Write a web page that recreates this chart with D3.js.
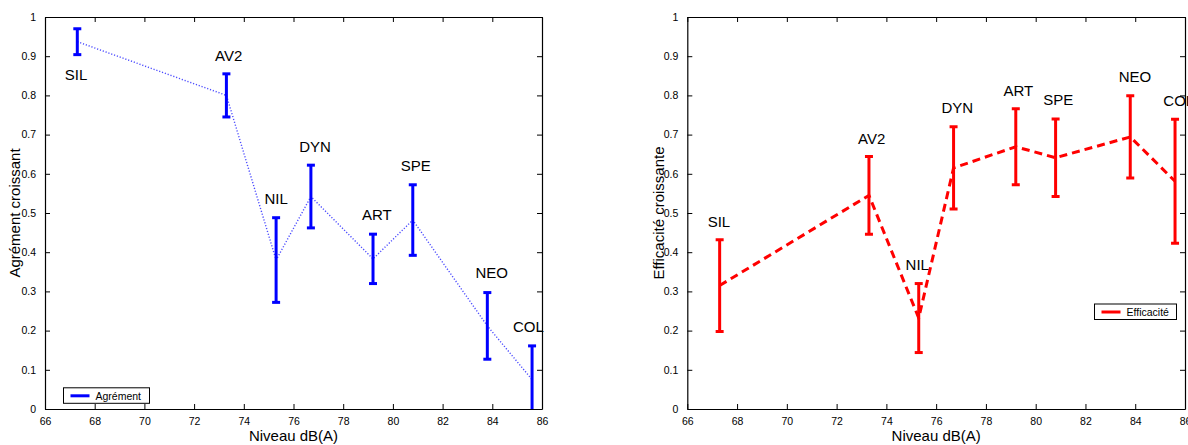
<!DOCTYPE html>
<html>
<head>
<meta charset="utf-8">
<script src="https://cdn.jsdelivr.net/npm/d3@7"></script>
<style>
  html, body { margin: 0; padding: 0; background: #fff; }
  svg { display: block; }
  text { font-family: "Liberation Sans", Arial, sans-serif; fill: #000; }
</style>
</head>
<body>
<svg id="chart" width="1188" height="445"></svg>
<script>
// ---- data ----
const categories = ["SIL", "AV2", "NIL", "DYN", "ART", "SPE", "NEO", "COL"];
const levels = [67.3, 73.3, 75.3, 76.7, 79.2, 80.8, 83.8, 85.6];

const agrementMean = [0.937, 0.800, 0.380, 0.542, 0.383, 0.482, 0.212, 0.075];
const agrementErr  = [0.033, 0.055, 0.108, 0.080, 0.063, 0.090, 0.085, 0.086];
const agrementLabelX = [67.25, 73.39, 75.30, 76.87, 79.35, 80.92, 83.98, 85.45];
const agrementLabelY = [0.853, 0.901, 0.536, 0.670, 0.496, 0.621, 0.347, 0.211];

const efficaciteMean = [0.315, 0.545, 0.232, 0.615, 0.669, 0.641, 0.694, 0.581];
const efficaciteErr  = [0.117, 0.099, 0.088, 0.105, 0.097, 0.099, 0.105, 0.158];
const efficaciteLabelX = [67.27, 73.41, 75.24, 76.85, 79.30, 80.91, 83.99, 85.75];
const efficaciteLabelY = [0.479, 0.691, 0.368, 0.770, 0.813, 0.789, 0.848, 0.787];

const xTicks = [66, 68, 70, 72, 74, 76, 78, 80, 82, 84, 86];
const yTicks = [0, 0.1, 0.2, 0.3, 0.4, 0.5, 0.6, 0.7, 0.8, 0.9, 1];
const yTickLabels = ["0", "0.1", "0.2", "0.3", "0.4", "0.5", "0.6", "0.7", "0.8", "0.9", "1"];

const xLabel = "Niveau dB(A)";

// ---- drawing ----
const svg = d3.select("#chart");

function panel(cfg) {
  const x = d3.scaleLinear().domain([66, 86]).range([cfg.left, cfg.right]);
  const y = d3.scaleLinear().domain([0, 1]).range([cfg.bottom, cfg.top]);
  const g = svg.append("g");
  const tickLen = 5;

  // clip
  const clipId = "clip-" + cfg.id;
  svg.append("clipPath").attr("id", clipId)
    .append("rect")
    .attr("x", cfg.left).attr("y", cfg.top)
    .attr("width", cfg.right - cfg.left).attr("height", cfg.bottom - cfg.top);

  // axes (bottom, left, top, right) with inward ticks
  const bottomAxis = d3.axisBottom(x).tickValues(xTicks).tickSizeInner(-tickLen).tickSizeOuter(0).tickPadding(9)
    .tickFormat(d3.format("d"));
  const topAxis = d3.axisTop(x).tickValues(xTicks).tickSizeInner(-tickLen).tickSizeOuter(0).tickFormat("");
  const leftAxis = d3.axisLeft(y).tickValues(yTicks).tickSizeInner(-tickLen).tickSizeOuter(0).tickPadding(9)
    .tickFormat((d, i) => yTickLabels[i]);
  const rightAxis = d3.axisRight(y).tickValues(yTicks).tickSizeInner(-tickLen).tickSizeOuter(0).tickFormat("");

  const axStyle = sel => {
    sel.selectAll("path").attr("stroke", "#000").attr("stroke-width", 1.2);
    sel.selectAll("line").attr("stroke", "#000").attr("stroke-width", 1);
    sel.selectAll("text").style("font-family", "'Liberation Sans', Arial, sans-serif")
      .style("font-size", "10.5px").attr("fill", "#222");
  };
  g.append("g").attr("transform", `translate(0,${cfg.bottom})`).call(bottomAxis).call(axStyle);
  g.append("g").attr("transform", `translate(0,${cfg.top})`).call(topAxis).call(axStyle);
  g.append("g").attr("transform", `translate(${cfg.left},0)`).call(leftAxis).call(axStyle);
  g.append("g").attr("transform", `translate(${cfg.right},0)`).call(rightAxis).call(axStyle);

  // data
  const pts = categories.map((c, i) => ({
    c, x: levels[i], m: cfg.mean[i], e: cfg.err[i], lx: cfg.labelX[i], ly: cfg.labelY[i]
  }));

  const plot = g.append("g").attr("clip-path", `url(#${clipId})`);

  // connecting line
  const line = d3.line().x(d => x(d.x)).y(d => y(d.m));
  plot.append("path").datum(pts)
    .attr("d", line)
    .attr("fill", "none")
    .attr("stroke", cfg.color)
    .attr("stroke-width", cfg.lineWidth)
    .attr("stroke-dasharray", cfg.dash)
    .attr("opacity", cfg.lineOpacity);

  // error bars
  const capW = 4;
  const eb = plot.selectAll("g.eb").data(pts).join("g").attr("class", "eb")
    .attr("stroke", cfg.color).attr("stroke-width", 3).attr("fill", "none");
  eb.append("line")
    .attr("x1", d => x(d.x)).attr("x2", d => x(d.x))
    .attr("y1", d => y(d.m - d.e)).attr("y2", d => y(d.m + d.e));
  eb.append("line")
    .attr("x1", d => x(d.x) - capW).attr("x2", d => x(d.x) + capW)
    .attr("y1", d => y(d.m + d.e)).attr("y2", d => y(d.m + d.e));
  eb.append("line")
    .attr("x1", d => x(d.x) - capW).attr("x2", d => x(d.x) + capW)
    .attr("y1", d => y(d.m - d.e)).attr("y2", d => y(d.m - d.e));

  // category labels
  g.selectAll("text.cat").data(pts).join("text").attr("class", "cat")
    .attr("x", d => x(d.lx)).attr("y", d => y(d.ly))
    .attr("dy", "0.36em")
    .attr("text-anchor", "middle")
    .style("font-size", "15px")
    .text(d => d.c);

  // axis labels
  g.append("text")
    .attr("x", (cfg.left + cfg.right) / 2).attr("y", cfg.bottom + 27)
    .attr("dy", "0.36em").attr("text-anchor", "middle")
    .style("font-size", "15px")
    .text(xLabel);
  g.append("text")
    .attr("transform", `translate(${cfg.yLabelX},${(cfg.top + cfg.bottom) / 2}) rotate(-90)`)
    .attr("dy", "0.36em").attr("text-anchor", "middle")
    .style("font-size", "15px")
    .text(cfg.yLabel);

  // legend
  const lg = g.append("g").attr("transform", `translate(${cfg.legendX},${cfg.legendY})`);
  lg.append("rect").attr("x", 0).attr("y", 0).attr("width", cfg.legendW).attr("height", 15.5)
    .attr("fill", "#fff").attr("stroke", "#000").attr("stroke-width", 1);
  lg.append("line").attr("x1", 7).attr("x2", 26).attr("y1", 8).attr("y2", 8)
    .attr("stroke", cfg.color).attr("stroke-width", 3);
  lg.append("text").attr("x", 32).attr("y", 8).attr("dy", "0.36em")
    .style("font-size", "10.5px").text(cfg.legendText);
}

panel({
  id: "a", left: 45, right: 542, top: 17, bottom: 409,
  mean: agrementMean, err: agrementErr, labelX: agrementLabelX, labelY: agrementLabelY,
  color: "#0000ff", lineWidth: 1.4, dash: "1.2,1.8", lineOpacity: 0.7,
  yLabel: "Agrément croissant", yLabelX: 15,
  legendX: 63.5, legendY: 387.8, legendW: 86, legendText: "Agrément"
});

panel({
  id: "b", left: 687.3, right: 1185, top: 17, bottom: 409,
  mean: efficaciteMean, err: efficaciteErr, labelX: efficaciteLabelX, labelY: efficaciteLabelY,
  color: "#ff0000", lineWidth: 3, dash: "8,5", lineOpacity: 1,
  yLabel: "Efficacité croissante", yLabelX: 658.3,
  legendX: 1094.5, legendY: 304, legendW: 82, legendText: "Efficacité"
});
</script>
</body>
</html>
